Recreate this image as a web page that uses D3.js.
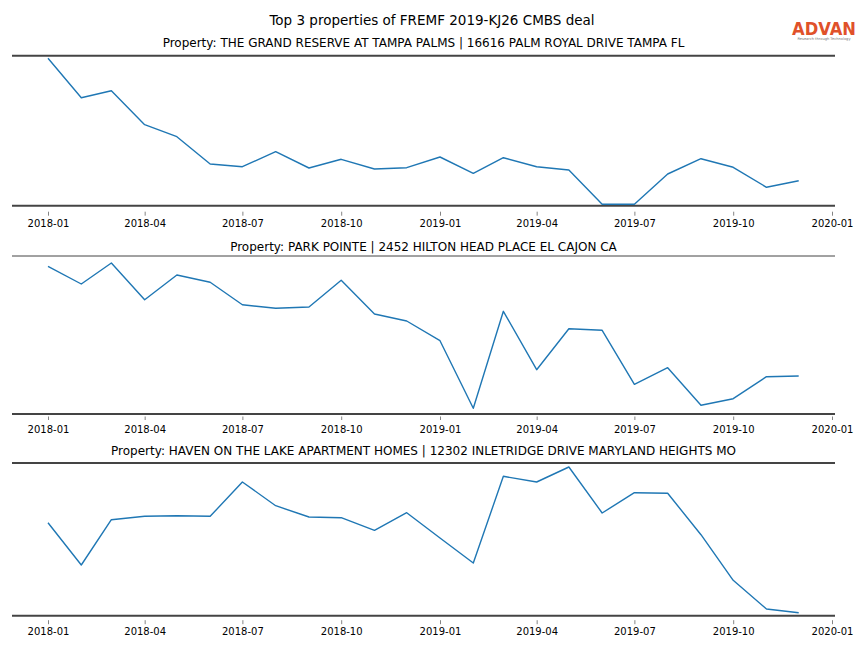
<!DOCTYPE html>
<html>
<head>
<meta charset="utf-8">
<script src="https://cdn.jsdelivr.net/npm/d3@7"></script>
<style>
  html, body { margin: 0; padding: 0; background: #fff; }
  svg { display: block; font-family: "DejaVu Sans", sans-serif; }
</style>
</head>
<body>
<svg id="chart" width="864" height="648"></svg>
<script>
// ---- data ----
const months = ["2018-01","2018-02","2018-03","2018-04","2018-05","2018-06","2018-07","2018-08","2018-09","2018-10","2018-11","2018-12",
                "2019-01","2019-02","2019-03","2019-04","2019-05","2019-06","2019-07","2019-08","2019-09","2019-10","2019-11","2019-12"];
const tickLabels = ["2018-01","2018-04","2018-07","2018-10","2019-01","2019-04","2019-07","2019-10","2020-01"];
const mainTitle = "Top 3 properties of FREMF 2019-KJ26 CMBS deal";
const propertyTitles = [
  "Property: THE GRAND RESERVE AT TAMPA PALMS | 16616 PALM ROYAL DRIVE TAMPA FL",
  "Property: PARK POINTE | 2452 HILTON HEAD PLACE EL CAJON CA",
  "Property: HAVEN ON THE LAKE APARTMENT HOMES | 12302 INLETRIDGE DRIVE MARYLAND HEIGHTS MO"
];
const seriesGrandReserve = [147.4,108,115,81,69,41.7,39,54,37.7,46.4,36.7,38,48.7,32.4,48,39,35.7,1.4,1.4,31.7,47,38.4,18.4,25];
const seriesParkPointe   = [147.7,130,151,114.3,139,131.7,109.3,105.7,107,133.7,100,93,73.3,5.7,102.7,44.3,85.3,83.7,29.7,46.3,8.7,15.3,37.3,38];
const seriesHaven        = [93,50.7,96,99.4,100,99.4,133.7,110,98.7,98,85.4,103,77.7,52.7,139.4,133.7,148.7,102.7,123,122.4,81,35.4,6.7,3];
const yDomains = [[0,150],[0,158],[0,152.7]];

// ---- layout ----
const svg = d3.select("#chart");
const left = 12, right = 835;
const panels = [
  {top: 55.7, bottom: 205.7, titleY: 47, topW: 2, tOff: 6, tSize: 4, tPad: 4.2},
  {top: 256, bottom: 414, titleY: 251, topW: 1, tOff: 2.5, tSize: 3.5, tPad: 5.8},
  {top: 463, bottom: 615.7, titleY: 455, topW: 2, tOff: 4.5, tSize: 4, tPad: 3.6}
];
const parse = d3.utcParse("%Y-%m");
const x = d3.scaleUtc().domain([parse("2018-01"), parse("2020-01")]).range([48, 832]);

svg.append("text").attr("x", 432).attr("y", 25).attr("text-anchor", "middle")
  .attr("font-size", 13.5).attr("fill", "#000").text(mainTitle);

// logo
svg.append("text").attr("x", 824).attr("y", 34.5).attr("text-anchor", "middle")
  .attr("font-size", 18).attr("font-weight", "600").attr("fill", "#e0512a")
  .attr("textLength", 64).attr("lengthAdjust", "spacingAndGlyphs").text("ADVAN");
svg.append("text").attr("x", 824).attr("y", 40).attr("text-anchor", "middle")
  .attr("font-size", 3.6).attr("fill", "#777").text("Research through Technology");

const allSeries = [seriesGrandReserve, seriesParkPointe, seriesHaven];

panels.forEach((p, i) => {
  const y = d3.scaleLinear().domain(yDomains[i]).range([p.bottom, p.top]);
  const g = svg.append("g");

  g.append("text").attr("x", (left + right) / 2).attr("y", p.titleY)
    .attr("text-anchor", "middle").attr("font-size", 12).attr("fill", "#000")
    .text(propertyTitles[i]);

  // spines
  g.append("line").attr("x1", left).attr("x2", right).attr("y1", p.top).attr("y2", p.top)
    .attr("stroke", "#444").attr("stroke-width", p.topW);
  g.append("line").attr("x1", left).attr("x2", right).attr("y1", p.bottom).attr("y2", p.bottom)
    .attr("stroke", "#444").attr("stroke-width", 2);

  // x axis
  const axis = d3.axisBottom(x)
    .tickValues(tickLabels.map(parse))
    .tickFormat(d3.utcFormat("%Y-%m"))
    .tickSize(p.tSize).tickPadding(p.tPad);
  const ax = g.append("g").attr("transform", `translate(0,${p.bottom + p.tOff})`).call(axis);
  ax.select(".domain").remove();
  ax.selectAll(".tick line").attr("stroke", "#666").attr("stroke-width", 0.8);
  ax.selectAll(".tick text").attr("font-size", 10).attr("fill", "#000")
    .attr("font-family", "DejaVu Sans, sans-serif");

  const line = d3.line().x((d, j) => x(parse(months[j]))).y(d => y(d));
  g.append("path").datum(allSeries[i]).attr("d", line)
    .attr("fill", "none").attr("stroke", "#1f77b4").attr("stroke-width", 1.4)
    .attr("stroke-linejoin", "round");
});
</script>
</body>
</html>
